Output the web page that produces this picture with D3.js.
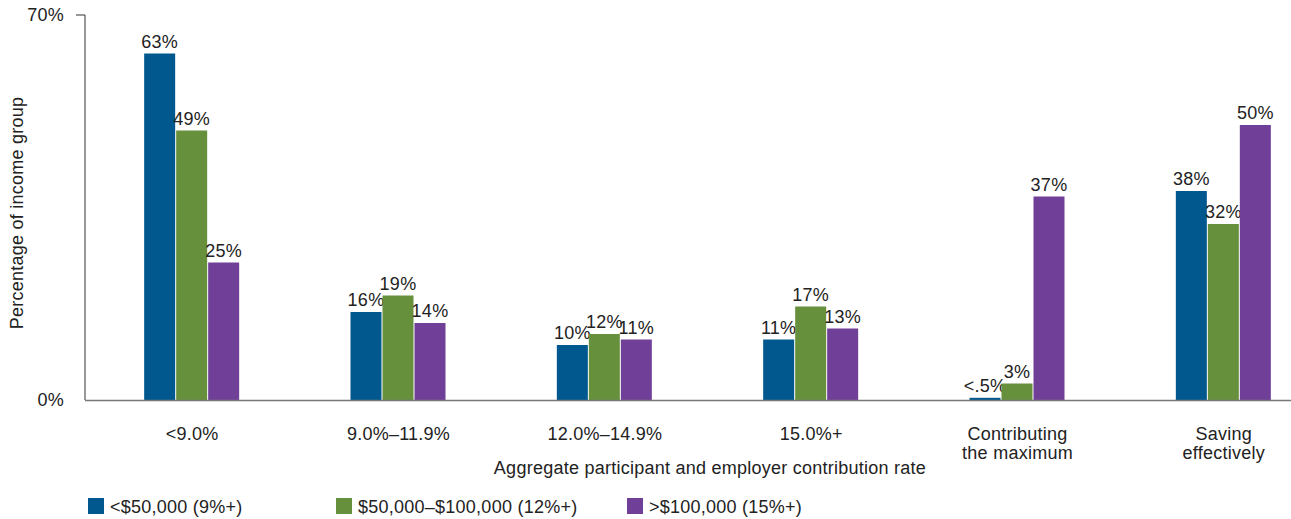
<!DOCTYPE html>
<html>
<head>
<meta charset="utf-8">
<script src="https://cdn.jsdelivr.net/npm/d3@7"></script>
<style>
  html, body { margin: 0; padding: 0; background: #fff; }
  svg text { font-family: "Liberation Sans", Arial, sans-serif; fill: #222; letter-spacing: 0.25px; }
</style>
</head>
<body>
<svg id="chart" width="1291" height="519"></svg>
<script>
// Contribution-rate categories (multi-line labels split on "\n")
const categories = ["<9.0%", "9.0%\u201311.9%", "12.0%\u201314.9%", "15.0%+", "Contributing\nthe maximum", "Saving\neffectively"];
const seriesNames = ["<$50,000 (9%+)", "$50,000\u2013$100,000 (12%+)", ">$100,000 (15%+)"];
// Percentage of each income group, per category
const under50k = [63, 16, 10, 11, 0.4, 38];
const mid50to100k = [49, 19, 12, 17, 3, 32];
const over100k = [25, 14, 11, 13, 37, 50];
const valueLabels = [
  ["63%", "16%", "10%", "11%", "<.5%", "38%"],
  ["49%", "19%", "12%", "17%", "3%", "32%"],
  ["25%", "14%", "11%", "13%", "37%", "50%"]
];
const yTicks = [0, 70];
const colors = ["#00588f", "#67903d", "#703f97"];

const series = [under50k, mid50to100k, over100k];
const svg = d3.select("#chart");
const FS = 18;

const margin = { left: 85, top: 15, bottom: 400 };
const y = d3.scaleLinear().domain([0, 70]).range([margin.bottom, margin.top]);
const x0 = d3.scaleBand().domain(categories).range([89, 1327]).padding(0);
const groupW = 96;
const x1 = d3.scaleBand().domain(d3.range(3)).range([0, groupW]).padding(0);

// Bars
categories.forEach((c, ci) => {
  const gx = x0(c) + x0.bandwidth() / 2 - groupW / 2;
  series.forEach((s, si) => {
    const v = s[ci];
    svg.append("rect")
      .attr("x", gx + x1(si))
      .attr("y", y(v))
      .attr("width", x1.bandwidth() - 1)
      .attr("height", y(0) - y(v))
      .attr("fill", colors[si]);
    svg.append("text")
      .attr("x", gx + x1(si) + (x1.bandwidth() - 1) / 2)
      .attr("y", y(v) - 6)
      .attr("text-anchor", "middle")
      .attr("font-size", FS)
      .text(valueLabels[si][ci]);
  });
});

// Y axis
svg.append("line")
  .attr("x1", margin.left).attr("x2", margin.left)
  .attr("y1", y(70)).attr("y2", y(0))
  .attr("stroke", "#333").attr("stroke-width", 1);
svg.append("line")
  .attr("x1", 76).attr("x2", margin.left)
  .attr("y1", y(70)).attr("y2", y(70))
  .attr("stroke", "#333").attr("stroke-width", 1);
yTicks.forEach(t => {
  svg.append("text")
    .attr("x", 64)
    .attr("y", y(t) + 6)
    .attr("text-anchor", "end")
    .attr("font-size", FS)
    .text(t + "%");
});
svg.append("text")
  .attr("transform", `translate(23, 213) rotate(-90)`)
  .attr("text-anchor", "middle")
  .attr("font-size", FS)
  .text("Percentage of income group");

// X axis baseline
svg.append("line")
  .attr("x1", margin.left).attr("x2", 1291)
  .attr("y1", y(0) + 0.5).attr("y2", y(0) + 0.5)
  .attr("stroke", "#777").attr("stroke-width", 1.5);

// Category labels
categories.forEach(c => {
  const t = svg.append("text")
    .attr("x", x0(c) + x0.bandwidth() / 2)
    .attr("y", 440)
    .attr("text-anchor", "middle")
    .attr("font-size", FS);
  c.split("\n").forEach((line, i) => {
    t.append("tspan")
      .attr("x", x0(c) + x0.bandwidth() / 2)
      .attr("dy", i === 0 ? 0 : 19)
      .text(line);
  });
});

svg.append("text")
  .attr("x", 710)
  .attr("y", 474)
  .attr("text-anchor", "middle")
  .attr("font-size", FS)
  .text("Aggregate participant and employer contribution rate");

// Legend
const legendX = [88, 336, 627];
seriesNames.forEach((n, i) => {
  svg.append("rect")
    .attr("x", legendX[i]).attr("y", 498)
    .attr("width", 16).attr("height", 16)
    .attr("fill", colors[i]);
  svg.append("text")
    .attr("x", legendX[i] + 22)
    .attr("y", 513)
    .attr("font-size", FS)
    .text(n);
});
</script>
</body>
</html>
